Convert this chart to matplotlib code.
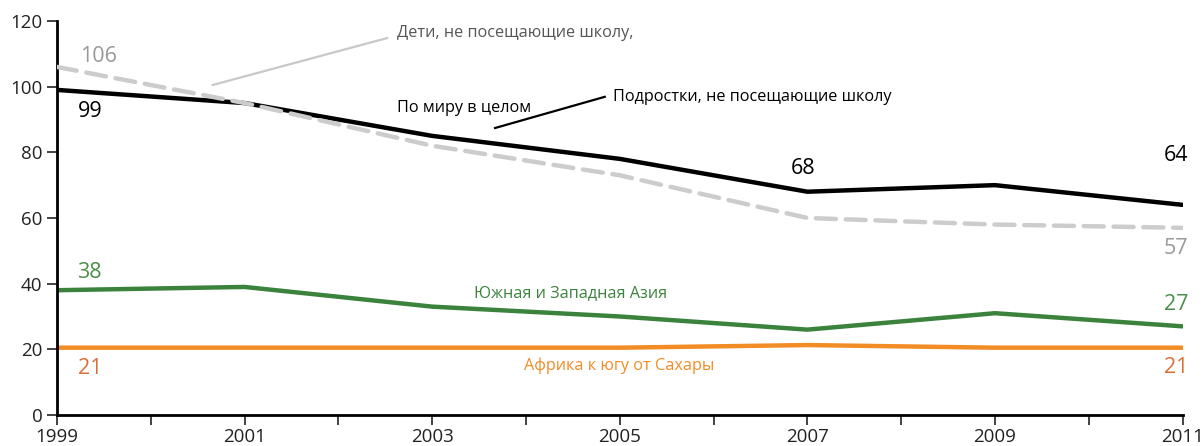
import matplotlib.pyplot as plt

years = [1999, 2001, 2003, 2005, 2007, 2009, 2011]
world_adol = [99, 95, 85, 78, 68, 70, 64]
world_child = [106, 95, 82, 73, 60, 58, 57]
south_asia = [38, 39, 33, 30, 26, 31, 27]
africa = [20.5, 20.5, 20.5, 20.5, 21.3, 20.5, 20.5]

plt.rcParams['font.family'] = ['Open Sans', 'DejaVu Sans']

fig = plt.figure(figsize=(12.03, 4.46), dpi=100)
ax = fig.add_axes([0.0474, 0.0695, 0.9356, 0.8835])

ax.plot(years, world_child, color='#cccccc', lw=3.2, dashes=(4.5, 2.2), solid_capstyle='round', dash_capstyle='round', zorder=3)
ax.plot(years, world_adol, color='black', lw=3.2, solid_capstyle='round', zorder=2)
ax.plot(years, south_asia, color='#3b833d', lw=3.2, solid_capstyle='round')
ax.plot(years, africa, color='#f28c25', lw=3.2, solid_capstyle='round')

ax.set_xlim(1999, 2011)
ax.set_ylim(0, 120)
ax.set_yticks([0, 20, 40, 60, 80, 100, 120])
ax.set_xticks(range(1999, 2012))
ax.set_xticklabels([str(y) if y % 2 == 1 else '' for y in range(1999, 2012)])
ax.tick_params(labelsize=13.5, colors='#222222', width=1.2, length=7)
ax.tick_params(axis='x', pad=2)
for s in ['top', 'right']:
    ax.spines[s].set_visible(False)
for s in ['left', 'bottom']:
    ax.spines[s].set_linewidth(2)

# value labels
fs = 15.5
ax.text(1999.44, 109.3, '106', color='#999999', fontsize=fs, ha='center', va='center')
ax.text(1999.35, 92.3, '99', color='black', fontsize=fs, ha='center', va='center')
ax.text(1999.35, 43.3, '38', color='#4a8f48', fontsize=fs, ha='center', va='center')
ax.text(1999.35, 14.3, '21', color='#d9703a', fontsize=fs, ha='center', va='center')
ax.text(2006.95, 75.2, '68', color='black', fontsize=fs, ha='center', va='center')
ax.text(2010.93, 78.9, '64', color='black', fontsize=fs, ha='center', va='center')
ax.text(2010.93, 50.6, '57', color='#999999', fontsize=fs, ha='center', va='center')
ax.text(2010.93, 33.8, '27', color='#4a8f48', fontsize=fs, ha='center', va='center')
ax.text(2010.93, 14.6, '21', color='#d9703a', fontsize=fs, ha='center', va='center')

# annotations
fa = 11.7
ax.plot([2000.66, 2002.52], [100.5, 114.8], color='#c8c8c8', lw=1.6, clip_on=False)
ax.text(2002.62, 116.4, 'Дети, не посещающие школу,', color='#555555', fontsize=fa, va='center')
ax.plot([2003.67, 2004.84], [87.4, 96.9], color='black', lw=1.6)
ax.text(2004.93, 96.9, 'Подростки, не посещающие школу', color='black', fontsize=fa, va='center')
ax.text(2002.63, 93.5, 'По миру в целом', color='black', fontsize=fa, va='center')
ax.text(2004.47, 37.2, 'Южная и Западная Азия', color='#3b833d', fontsize=fa, ha='center', va='center')
ax.text(2004.99, 14.9, 'Африка к югу от Сахары', color='#f28c25', fontsize=fa, ha='center', va='center')

fig.savefig('out.png', dpi=100)
